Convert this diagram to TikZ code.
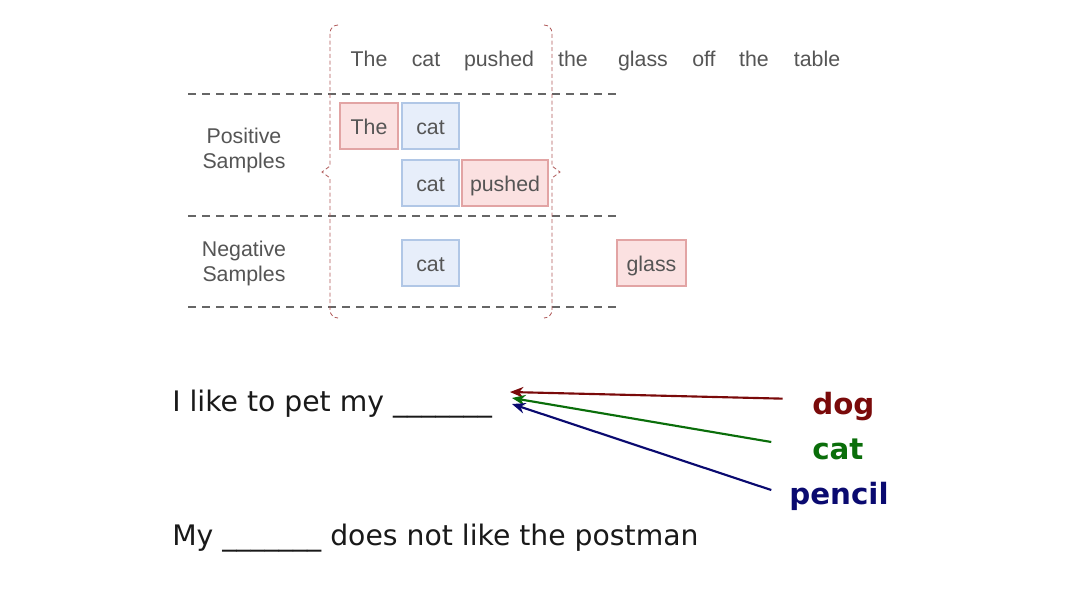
\documentclass[tikz,border=0pt]{standalone}
\usepackage{fontspec}
\setmainfont{Liberation Sans}
\newfontfamily\verdana{DejaVu Sans}
\usetikzlibrary{arrows.meta}

\definecolor{txtgray}{HTML}{555555}
\definecolor{rulegray}{HTML}{666666}
\definecolor{redfill}{HTML}{FBE1E1}
\definecolor{redline}{HTML}{E2A4A4}
\definecolor{bluefill}{HTML}{E7EEFA}
\definecolor{blueline}{HTML}{B1C7E6}
\definecolor{bracered}{HTML}{B05A5A}
\definecolor{dogred}{HTML}{7A0A0A}
\definecolor{catgreen}{HTML}{0A6E0A}
\definecolor{pencilblue}{HTML}{0A0A70}

\tikzset{>={Stealth[length=10pt,width=8pt]},
  word/.style={text=txtgray,font=\fontsize{16}{18.75}\selectfont,inner sep=0pt},
  sample/.style={word,minimum height=34.5pt,text height=12pt,text depth=0pt,line width=1.2pt},
  redbox/.style={sample,fill=redfill,draw=redline},
  bluebox/.style={sample,fill=bluefill,draw=blueline},
  sep/.style={rulegray,line width=1.5pt,dash pattern=on 6pt off 4.5pt},
  bracket/.style={bracered,line width=0.6pt,dash pattern=on 3pt off 2pt},
  sentence/.style={font=\verdana\fontsize{21.2}{26}\selectfont,text=black!90,inner sep=0pt,anchor=base west},
  answer/.style={font=\verdana\bfseries\fontsize{22}{26}\selectfont,inner sep=0pt,anchor=base west},
  arr/.style={->,line width=1.6pt}}

\begin{document}
\begin{tikzpicture}[x=0.75pt,y=-0.75pt]

\useasboundingbox[fill=white] (0,0) rectangle (1086,611);

% top sentence
\foreach \w/\x [count=\i] in {The/369,cat/426,pushed/499,the/573,glass/643,off/704,the/754,table/817}
  \node[word,anchor=base] (w\i) at (\x,66) {\w};

% row separators
\draw[sep] (188,94) -- (616,94);
\draw[sep] (188,216) -- (616,216);
\draw[sep] (188,307) -- (616,307);

\node[word,align=center] (pos) at (244,150) {Positive\\Samples};
\node[word,align=center] (neg) at (244,263.5) {Negative\\Samples};

% sample boxes
\node[redbox,minimum width=43.5pt] (p1) at (369,126) {The};
\node[bluebox,minimum width=43pt] (p2) at (430.5,126) {cat};
\node[bluebox,minimum width=43pt] (p3) at (430.5,183) {cat};
\node[redbox,minimum width=64.5pt] (p4) at (505,183) {pushed};
\node[bluebox,minimum width=43pt] (n1) at (430.5,263) {cat};
\node[redbox,minimum width=51.75pt] (n2) at (651.5,263) {glass};

% context window
\draw[bracket] (338,25) [rounded corners=6pt] -| (330,100) [sharp corners] -- (330,166) -- (322,172) -- (330,178) -- (330,250) [rounded corners=6pt] |- (338,318);
\draw[bracket] (544,25) [rounded corners=6pt] -| (552,100) [sharp corners] -- (552,166) -- (560,172) -- (552,178) -- (552,250) [rounded corners=6pt] |- (544,318);

% fill in the blank
\node[sentence] (s1) at (172,411) {I like to pet my \_\_\_\_\_\_\_};
\node[sentence] (s2) at (172,545) {My \_\_\_\_\_\_\_ does not like the postman};

\coordinate (slot1) at (510,392);
\coordinate (slot2) at (512,398);
\coordinate (slot3) at (512,404);

\node[answer,text=dogred] (dog) at (812,414) {dog};
\node[answer,text=catgreen] (cat) at (812,459) {cat};
\node[answer,text=pencilblue] (pencil) at (789,504) {pencil};

\draw[arr,dogred,shorten <=22pt] (dog.168) -- (slot1);
\draw[arr,catgreen,shorten <=31pt] (cat.west) -- (slot2);
\draw[arr,pencilblue,shorten <=14pt] (pencil.west) -- (slot3);

\end{tikzpicture}
\end{document}
